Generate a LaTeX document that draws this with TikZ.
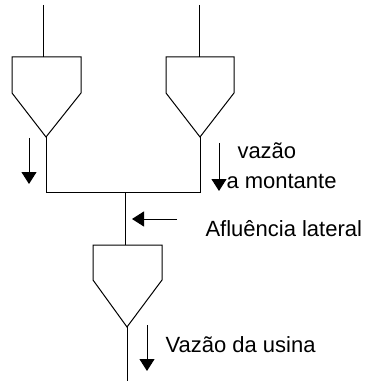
\documentclass[tikz,border=0pt]{standalone}
\usepackage{fontspec}
\setmainfont{Liberation Sans}
\usetikzlibrary{arrows.meta}
\begin{document}
\begin{tikzpicture}[x=1pt,y=-1pt,line width=1pt,
  flow/.style={-{Triangle[width=15pt,length=12pt]},line width=1pt},
  lbl/.style={anchor=base west,inner sep=0pt,font=\fontsize{22}{26}\selectfont}]
\useasboundingbox (0,0) rectangle (364,382);
% left reservoir
\coordinate (lin) at (43,5);
\coordinate (ltop) at (43,57);
\coordinate (ltip) at (46,137);
\draw (lin) -- (ltop);
\draw (12,93) -- (12,57) -- (81,57) -- (81,93) -- (ltip) -- cycle;
% right reservoir
\coordinate (rin) at (199,5);
\coordinate (rtop) at (199,57);
\coordinate (rtip) at (200,137);
\draw (rin) -- (rtop);
\draw (166,93) -- (166,57) -- (234,57) -- (234,93) -- (rtip) -- cycle;
% junction
\coordinate (lj) at (46,192);
\coordinate (rj) at (200,192);
\coordinate (cj) at (125,192);
\draw (ltip) -- (lj) -- (rj) -- (rtip);
% lower reservoir
\coordinate (btop) at (125,245);
\coordinate (btip) at (127,327);
\coordinate (bout) at (127,381);
\draw (cj) -- (btop);
\draw (93,280) -- (93,245) -- (162,245) -- (162,280) -- (btip) -- cycle;
\draw (btip) -- (bout);
% arrows
\coordinate (a1s) at (29,138); \coordinate (a1e) at (29,184);
\draw[flow] (a1s) -- (a1e);
\coordinate (a2s) at (219,143); \coordinate (a2e) at (219,191);
\draw[flow] (a2s) -- (a2e);
\coordinate (a3s) at (177,219); \coordinate (a3e) at (132,219);
\draw[flow] (a3s) -- (a3e);
\coordinate (a4s) at (147,325); \coordinate (a4e) at (147,371);
\draw[flow] (a4s) -- (a4e);
% labels
\node[lbl] (t1) at (237,158) {vazão};
\node[lbl] (t2) at (226,188) {a montante};
\node[lbl] (t3) at (205,236) {Afluência lateral};
\node[lbl] (t4) at (165,352) {Vazão da usina};
\end{tikzpicture}
\end{document}
